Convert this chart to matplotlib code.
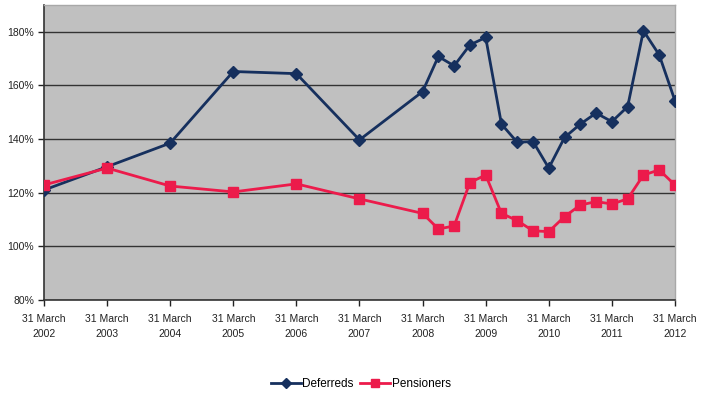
import numpy as np
import matplotlib.pyplot as plt
from matplotlib.ticker import FuncFormatter

plt.rcParams['font.family'] = ['Liberation Sans', 'DejaVu Sans']

# Valuation dates as decimal years (annual to 2008, then quarterly)
years = [2002, 2003, 2004, 2005, 2006, 2007,
         2008, 2008.25, 2008.5, 2008.75,
         2009, 2009.25, 2009.5, 2009.75,
         2010, 2010.25, 2010.5, 2010.75,
         2011, 2011.25, 2011.5, 2011.75,
         2012]

deferreds = [121.0, 129.7, 138.5, 165.2, 164.4, 139.7,
             157.7, 170.8, 167.3, 175.1,
             177.9, 145.6, 138.8, 139.1,
             129.2, 140.6, 145.6, 149.7,
             146.5, 152.1, 180.4, 171.4,
             154.3]

pensioners = [122.9, 129.2, 122.5, 120.3, 123.3, 117.7,
              112.3, 106.5, 107.6, 123.8,
              126.6, 112.3, 109.6, 105.8,
              105.5, 111.1, 115.4, 116.7,
              115.8, 117.7, 126.6, 128.5,
              122.9]

tick_years = list(range(2002, 2013))
tick_labels = ['31 March\n%d' % y for y in tick_years]

fig = plt.figure(figsize=(7.07, 3.96), dpi=100)
ax = fig.add_axes([0.0622, 0.2424, 0.8925, 0.745])
ax.set_facecolor('#c0c0c0')

ax.plot(years, deferreds, color='#16305e', lw=2, marker='D', ms=6,
        label='Deferreds', zorder=3)
ax.plot(years, pensioners, color='#ec1b4b', lw=2, marker='s', ms=7,
        label='Pensioners', zorder=3)

ax.set_xlim(2002, 2012)
ax.set_ylim(80, 190)
ax.set_yticks(np.arange(80, 181, 20))
ax.yaxis.set_major_formatter(FuncFormatter(lambda v, p: '%d%%' % v))
ax.set_xticks(tick_years)
ax.set_xticklabels(tick_labels, linespacing=1.7)
ax.yaxis.grid(True, color='#333333', lw=1)
ax.set_axisbelow(True)

ax.tick_params(axis='both', labelsize=7.5, colors='#222222', length=4,
               width=1, direction='out', pad=3)
ax.tick_params(axis='x', pad=6)
for side in ('left', 'bottom'):
    ax.spines[side].set_color('#333333')
    ax.spines[side].set_linewidth(1.2)
for side in ('top', 'right'):
    ax.spines[side].set_color('#a8a8a8')
    ax.spines[side].set_linewidth(1)

fig.legend(loc='center', bbox_to_anchor=(0.51, 0.03), ncol=2, frameon=False,
           fontsize=8.5, handlelength=2.6, handletextpad=0.1, columnspacing=0.5,
           markerscale=0.85)

fig.savefig('out.png', dpi=100, facecolor='white')
